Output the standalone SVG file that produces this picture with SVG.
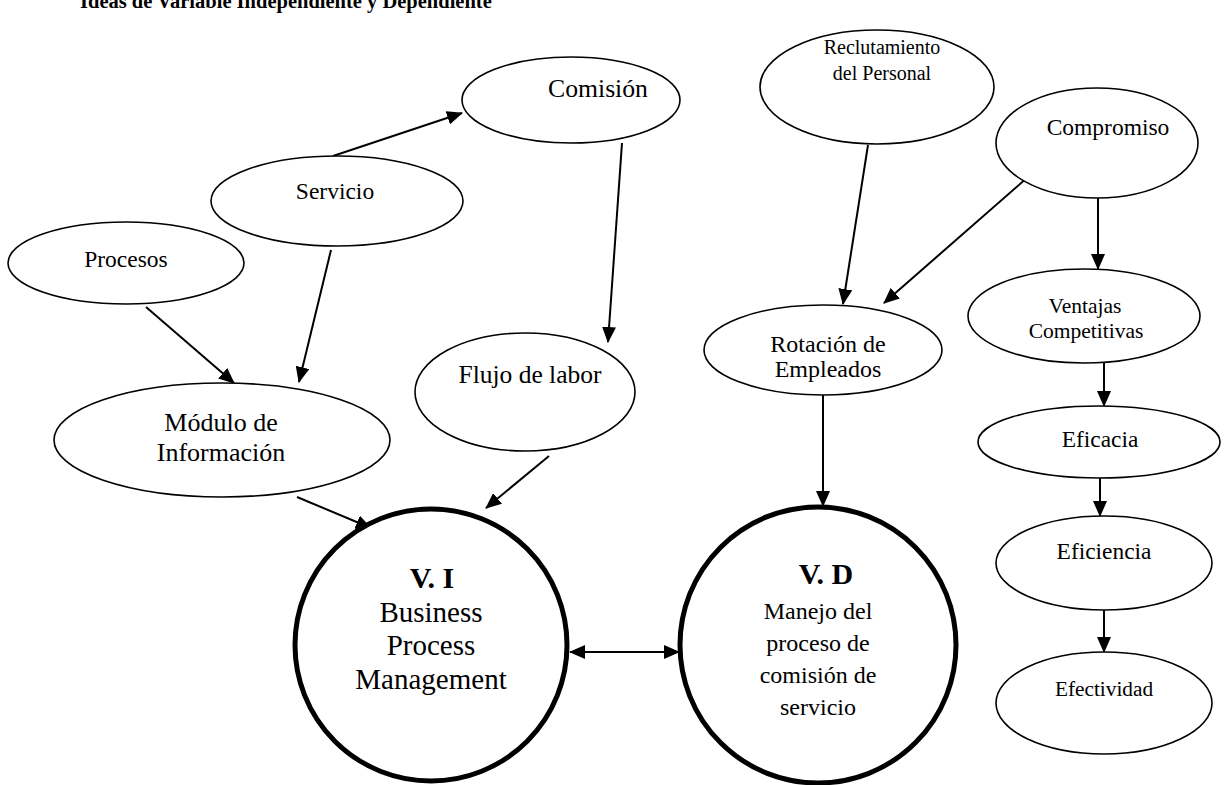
<svg xmlns="http://www.w3.org/2000/svg" width="1225" height="785" viewBox="0 0 1225 785">
  <style>
    .node { fill: #fff; stroke: #000; stroke-width: 1.6; }
    .big { fill: #fff; stroke: #000; stroke-width: 5; }
    .t { font-family: "Liberation Serif", "Times New Roman", serif; fill: #000; text-anchor: middle; }
    .edge { stroke: #000; stroke-width: 2; fill: none; marker-end: url(#head); }
    .title { font-family: "Liberation Serif", "Times New Roman", serif; font-weight: bold; font-size: 20.5px; fill: #000; }
  </style>
  <defs>
    <marker id="head" markerUnits="userSpaceOnUse" markerWidth="16" markerHeight="14" refX="15" refY="7" orient="auto">
      <path d="M0,0 L16,7 L0,14 Z" fill="#000"/>
    </marker>
    <marker id="tail" markerUnits="userSpaceOnUse" markerWidth="16" markerHeight="14" refX="1" refY="7" orient="auto">
      <path d="M16,0 L0,7 L16,14 Z" fill="#000"/>
    </marker>
  </defs>
  <rect width="1225" height="785" fill="#fff"/>

  <text class="title" x="80" y="8">Ideas de Variable Independiente y Dependiente</text>

  <g id="connectors">
    <line class="edge" x1="333" y1="156" x2="462" y2="113"/>
    <line class="edge" x1="146" y1="307" x2="234" y2="383"/>
    <line class="edge" x1="331" y1="250" x2="299" y2="382"/>
    <line class="edge" x1="622" y1="143" x2="608" y2="342"/>
    <line class="edge" x1="297" y1="497" x2="371" y2="528"/>
    <line class="edge" x1="549" y1="456" x2="486" y2="508"/>
    <line class="edge" x1="868" y1="145" x2="843" y2="304"/>
    <line class="edge" x1="1028" y1="177" x2="884" y2="303"/>
    <line class="edge" x1="1098" y1="198" x2="1098" y2="269"/>
    <line class="edge" x1="823" y1="394" x2="823" y2="506"/>
    <line class="edge" x1="1104" y1="363" x2="1104" y2="406"/>
    <line class="edge" x1="1100" y1="478" x2="1100" y2="516"/>
    <line class="edge" x1="1104" y1="608" x2="1104" y2="652"/>
    <line class="edge" x1="570" y1="652" x2="679" y2="652" marker-start="url(#tail)"/>
  </g>

  <g id="procesos">
    <ellipse class="node" cx="126" cy="263" rx="118" ry="41"/>
    <text class="t" x="126" y="267" font-size="23.5">Procesos</text>
  </g>
  <g id="servicio">
    <ellipse class="node" cx="337" cy="201" rx="126" ry="45"/>
    <text class="t" x="335" y="199" font-size="23.5">Servicio</text>
  </g>
  <g id="comision">
    <ellipse class="node" cx="571" cy="100" rx="109" ry="43"/>
    <text class="t" x="598" y="97" font-size="25.7">Comisión</text>
  </g>
  <g id="reclutamiento">
    <ellipse class="node" cx="877" cy="87" rx="117" ry="57"/>
    <text class="t" x="882" y="54" font-size="20">Reclutamiento</text>
    <text class="t" x="882" y="80" font-size="20">del Personal</text>
  </g>
  <g id="compromiso">
    <ellipse class="node" cx="1097" cy="143" rx="101" ry="55"/>
    <text class="t" x="1108" y="135" font-size="23.5">Compromiso</text>
  </g>
  <g id="ventajas">
    <ellipse class="node" cx="1084" cy="316" rx="116" ry="47"/>
    <text class="t" x="1085" y="313" font-size="21.5">Ventajas</text>
    <text class="t" x="1086" y="338" font-size="21.5">Competitivas</text>
  </g>
  <g id="eficacia">
    <ellipse class="node" cx="1099" cy="442" rx="121" ry="36"/>
    <text class="t" x="1100" y="447" font-size="23.4">Eficacia</text>
  </g>
  <g id="eficiencia">
    <ellipse class="node" cx="1104" cy="563" rx="108" ry="47"/>
    <text class="t" x="1104" y="559" font-size="23.4">Eficiencia</text>
  </g>
  <g id="efectividad">
    <ellipse class="node" cx="1104" cy="703" rx="108" ry="51"/>
    <text class="t" x="1104" y="696" font-size="21.3">Efectividad</text>
  </g>
  <g id="rotacion">
    <ellipse class="node" cx="823" cy="350" rx="119" ry="45"/>
    <text class="t" x="828" y="352" font-size="24">Rotación de</text>
    <text class="t" x="828" y="377" font-size="24">Empleados</text>
  </g>
  <g id="flujo">
    <ellipse class="node" cx="525" cy="392" rx="110" ry="59"/>
    <text class="t" x="530" y="383" font-size="25.5">Flujo de labor</text>
  </g>
  <g id="modulo">
    <ellipse class="node" cx="222" cy="440" rx="168" ry="57"/>
    <text class="t" x="221" y="431" font-size="26">Módulo de</text>
    <text class="t" x="221" y="461" font-size="26">Información</text>
  </g>
  <g id="vi">
    <circle class="big" cx="431" cy="645" r="136"/>
    <text class="t" x="432" y="588" font-size="30" font-weight="bold">V. I</text>
    <text class="t" x="431" y="622" font-size="29">Business</text>
    <text class="t" x="431" y="655" font-size="29">Process</text>
    <text class="t" x="431" y="689" font-size="29">Management</text>
  </g>
  <g id="vd">
    <circle class="big" cx="818" cy="645" r="138"/>
    <text class="t" x="826" y="584" font-size="30" font-weight="bold">V. D</text>
    <text class="t" x="818" y="619" font-size="24">Manejo del</text>
    <text class="t" x="818" y="651" font-size="24">proceso de</text>
    <text class="t" x="818" y="683" font-size="24">comisión de</text>
    <text class="t" x="818" y="715" font-size="24">servicio</text>
  </g>
</svg>
